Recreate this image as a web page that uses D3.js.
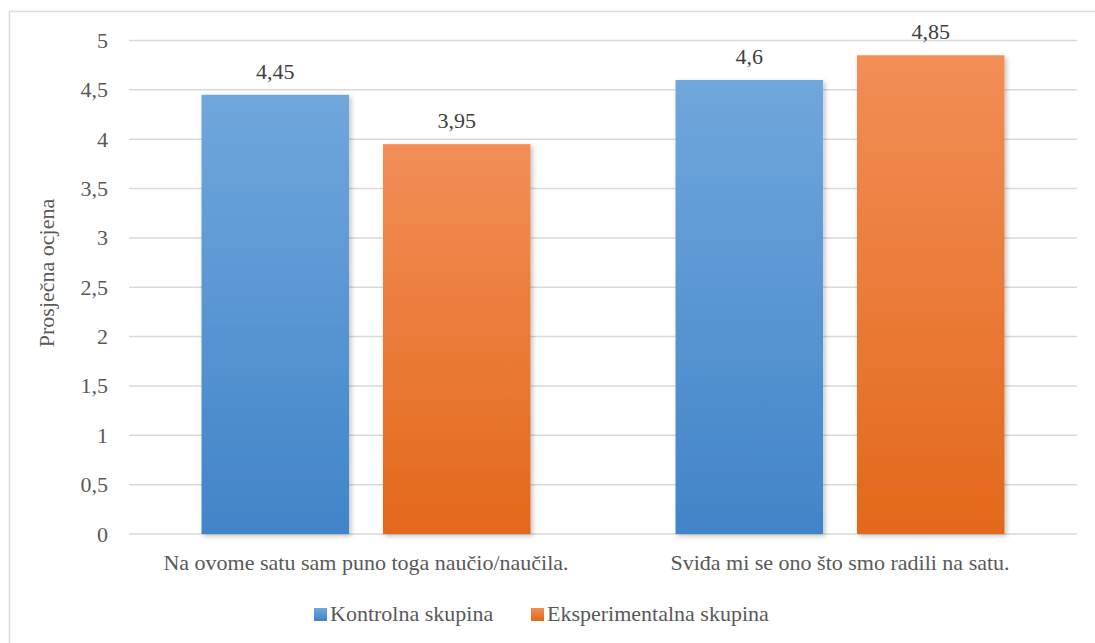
<!DOCTYPE html>
<html>
<head>
<meta charset="utf-8">
<script src="https://cdn.jsdelivr.net/npm/d3@7"></script>
<style>
  body { margin: 0; background: #fff; }
</style>
</head>
<body>
<script>
// chart data
var categories = ['Na ovome satu sam puno toga naučio/naučila.', 'Sviđa mi se ono što smo radili na satu.'];
var seriesNames = ['Kontrolna skupina', 'Eksperimentalna skupina'];
var kontrolna = [4.45, 4.6];
var eksperimentalna = [3.95, 4.85];
var yTicks = [0, 0.5, 1, 1.5, 2, 2.5, 3, 3.5, 4, 4.5, 5];
var yTitle = 'Prosječna ocjena';

// gradient colours per series (top, bottom)
var seriesColors = [['#70a7dc', '#4184c8'], ['#f28e57', '#e3681a']];

var fontFamily = "'Liberation Serif', 'DejaVu Serif', serif";
var fontSize = 22;
var width = 1095, height = 643;
var plot = { left: 129, right: 1077, top: 40.5, bottom: 534 };

var svg = d3.select('body').append('svg')
  .attr('width', width)
  .attr('height', height);

var defs = svg.append('defs');
seriesColors.forEach(function(c, i) {
  var g = defs.append('linearGradient')
    .attr('id', 'grad' + i)
    .attr('x1', 0).attr('y1', 0).attr('x2', 0).attr('y2', 1);
  g.append('stop').attr('offset', '0%').attr('stop-color', c[0]);
  g.append('stop').attr('offset', '100%').attr('stop-color', c[1]);
});
var shadow = defs.append('filter').attr('id', 'shadow')
  .attr('x', '-10%').attr('y', '-10%').attr('width', '130%').attr('height', '130%');
shadow.append('feDropShadow')
  .attr('dx', 2).attr('dy', 2).attr('stdDeviation', 2.5)
  .attr('flood-color', '#000').attr('flood-opacity', 0.25);

// outer frame (runs off the right and bottom edge)
svg.append('rect')
  .attr('x', 9.5).attr('y', 11.5)
  .attr('width', 1100).attr('height', 650)
  .attr('fill', 'none')
  .attr('stroke', '#d9d9d9')
  .attr('stroke-width', 1.5);

var y = d3.scaleLinear().domain([0, 5]).range([plot.bottom, plot.top]);
var x0 = d3.scaleBand().domain(categories)
  .range([plot.left, plot.right])
  .paddingInner(0.306).paddingOuter(0.153);
var x1 = d3.scaleBand().domain(seriesNames)
  .range([0, x0.bandwidth()])
  .paddingInner(0.187);

// gridlines
svg.append('g')
  .selectAll('line')
  .data(yTicks)
  .enter().append('line')
  .attr('x1', plot.left).attr('x2', plot.right)
  .attr('y1', d => y(d)).attr('y2', d => y(d))
  .attr('stroke', '#d9d9d9')
  .attr('stroke-width', 1.5);

// y axis labels
var fmt = function(v) { return String(v).replace('.', ','); };
var yAxis = svg.append('g')
  .attr('transform', 'translate(' + plot.left + ',0)')
  .call(d3.axisLeft(y).tickValues(yTicks).tickFormat(fmt).tickSize(0).tickPadding(21));
yAxis.attr('font-family', fontFamily).attr('font-size', fontSize);
yAxis.select('.domain').remove();
yAxis.selectAll('text').attr('fill', '#595959');

// y title
svg.append('text')
  .attr('transform', 'translate(54,' + 273 + ') rotate(-90)')
  .attr('text-anchor', 'middle')
  .attr('font-family', fontFamily)
  .attr('font-size', fontSize)
  .attr('fill', '#595959')
  .text(yTitle);

// bars
var rows = categories.map(function(c, i) {
  return { cat: c, values: [kontrolna[i], eksperimentalna[i]] };
});
var groups = svg.append('g').selectAll('g')
  .data(rows)
  .enter().append('g')
  .attr('transform', d => 'translate(' + x0(d.cat) + ',0)');

groups.selectAll('rect')
  .data(d => d.values.map((v, i) => ({ name: seriesNames[i], value: v, i: i })))
  .enter().append('rect')
  .attr('x', d => x1(d.name))
  .attr('y', d => y(d.value))
  .attr('width', x1.bandwidth())
  .attr('height', d => plot.bottom - y(d.value))
  .attr('fill', d => 'url(#grad' + d.i + ')')
  .attr('filter', 'url(#shadow)');

groups.selectAll('text.val')
  .data(d => d.values.map((v, i) => ({ name: seriesNames[i], value: v })))
  .enter().append('text')
  .attr('class', 'val')
  .attr('x', d => x1(d.name) + x1.bandwidth() / 2)
  .attr('y', d => y(d.value) - 16)
  .attr('text-anchor', 'middle')
  .attr('font-family', fontFamily)
  .attr('font-size', fontSize)
  .attr('fill', '#404040')
  .text(d => fmt(d.value));

// category labels
svg.append('g').selectAll('text')
  .data(categories)
  .enter().append('text')
  .attr('x', d => x0(d) + x0.bandwidth() / 2)
  .attr('y', 570)
  .attr('text-anchor', 'middle')
  .attr('font-family', fontFamily)
  .attr('font-size', fontSize)
  .attr('fill', '#595959')
  .text(d => d);

// legend
var legendX = [314, 531];
var legend = svg.append('g').selectAll('g')
  .data(seriesNames)
  .enter().append('g')
  .attr('transform', (d, i) => 'translate(' + legendX[i] + ',608)');
legend.append('rect')
  .attr('width', 13).attr('height', 13)
  .attr('fill', (d, i) => 'url(#grad' + i + ')');
legend.append('text')
  .attr('x', 16).attr('y', 13)
  .attr('font-family', fontFamily)
  .attr('font-size', fontSize)
  .attr('fill', '#595959')
  .text(d => d);
</script>
</body>
</html>
